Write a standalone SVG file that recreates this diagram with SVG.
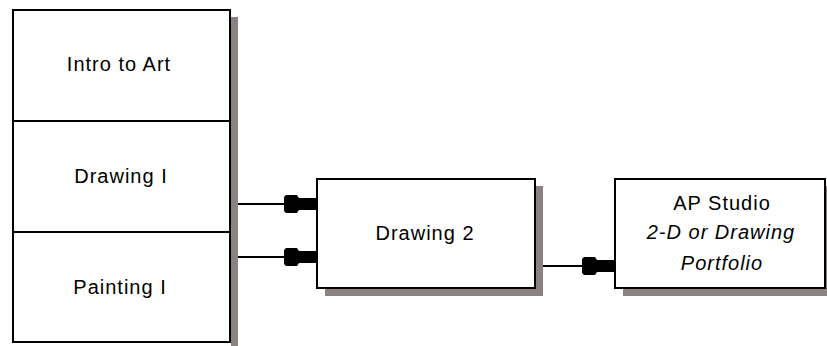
<svg xmlns="http://www.w3.org/2000/svg" width="827" height="346" viewBox="0 0 827 346">
<style>
.box{fill:#fff;stroke:#000;stroke-width:2}
.sh{fill:#8c8282}
.t{font-family:"Liberation Sans",Arial,sans-serif;font-size:20px;letter-spacing:1px;fill:#000;text-anchor:middle}
.i{font-style:italic}
.c{stroke:#000;stroke-width:2;fill:none;marker-end:url(#ah)}
</style>
<defs>
<marker id="ah" markerUnits="userSpaceOnUse" markerWidth="34" markerHeight="20" viewBox="0 -10 34 20" refX="33" refY="0" orient="auto">
<polygon points="0,-7 2,-9 13,-9 15,-6 33,-6 33,6 15,6 13,9 2,9 0,7" fill="#000"/>
</marker>
</defs>
<rect width="827" height="346" fill="#fff"/>
<g id="prereq">
<rect class="sh" x="231" y="17" width="7" height="340"/>
<rect class="box" x="13" y="10" width="217" height="332"/>
<line x1="13" y1="121" x2="230" y2="121" stroke="#000" stroke-width="2"/>
<line x1="13" y1="232" x2="230" y2="232" stroke="#000" stroke-width="2"/>
</g>
<g id="intro"><text class="t" x="119" y="71">Intro to Art</text></g>
<g id="drawing1"><text class="t" x="121" y="183">Drawing I</text></g>
<g id="painting1"><text class="t" x="120" y="294">Painting I</text></g>
<g id="drawing2">
<rect class="sh" x="325" y="186" width="218" height="110"/>
<rect class="box" x="317" y="179" width="218" height="109"/>
<text class="t" x="425" y="240">Drawing 2</text>
</g>
<g id="apstudio">
<rect class="sh" x="623" y="186" width="210" height="110"/>
<rect class="box" x="615" y="179" width="210" height="109"/>
<text class="t" x="722" y="210">AP Studio</text>
<text class="t i" x="721" y="239">2-D or Drawing</text>
<text class="t i" x="722" y="270">Portfolio</text>
</g>
<g id="connectors">
<line class="c" x1="238" y1="204" x2="317" y2="204"/>
<line class="c" x1="238" y1="257" x2="317" y2="257"/>
<line class="c" x1="543" y1="266" x2="615" y2="266"/>
</g>
</svg>
